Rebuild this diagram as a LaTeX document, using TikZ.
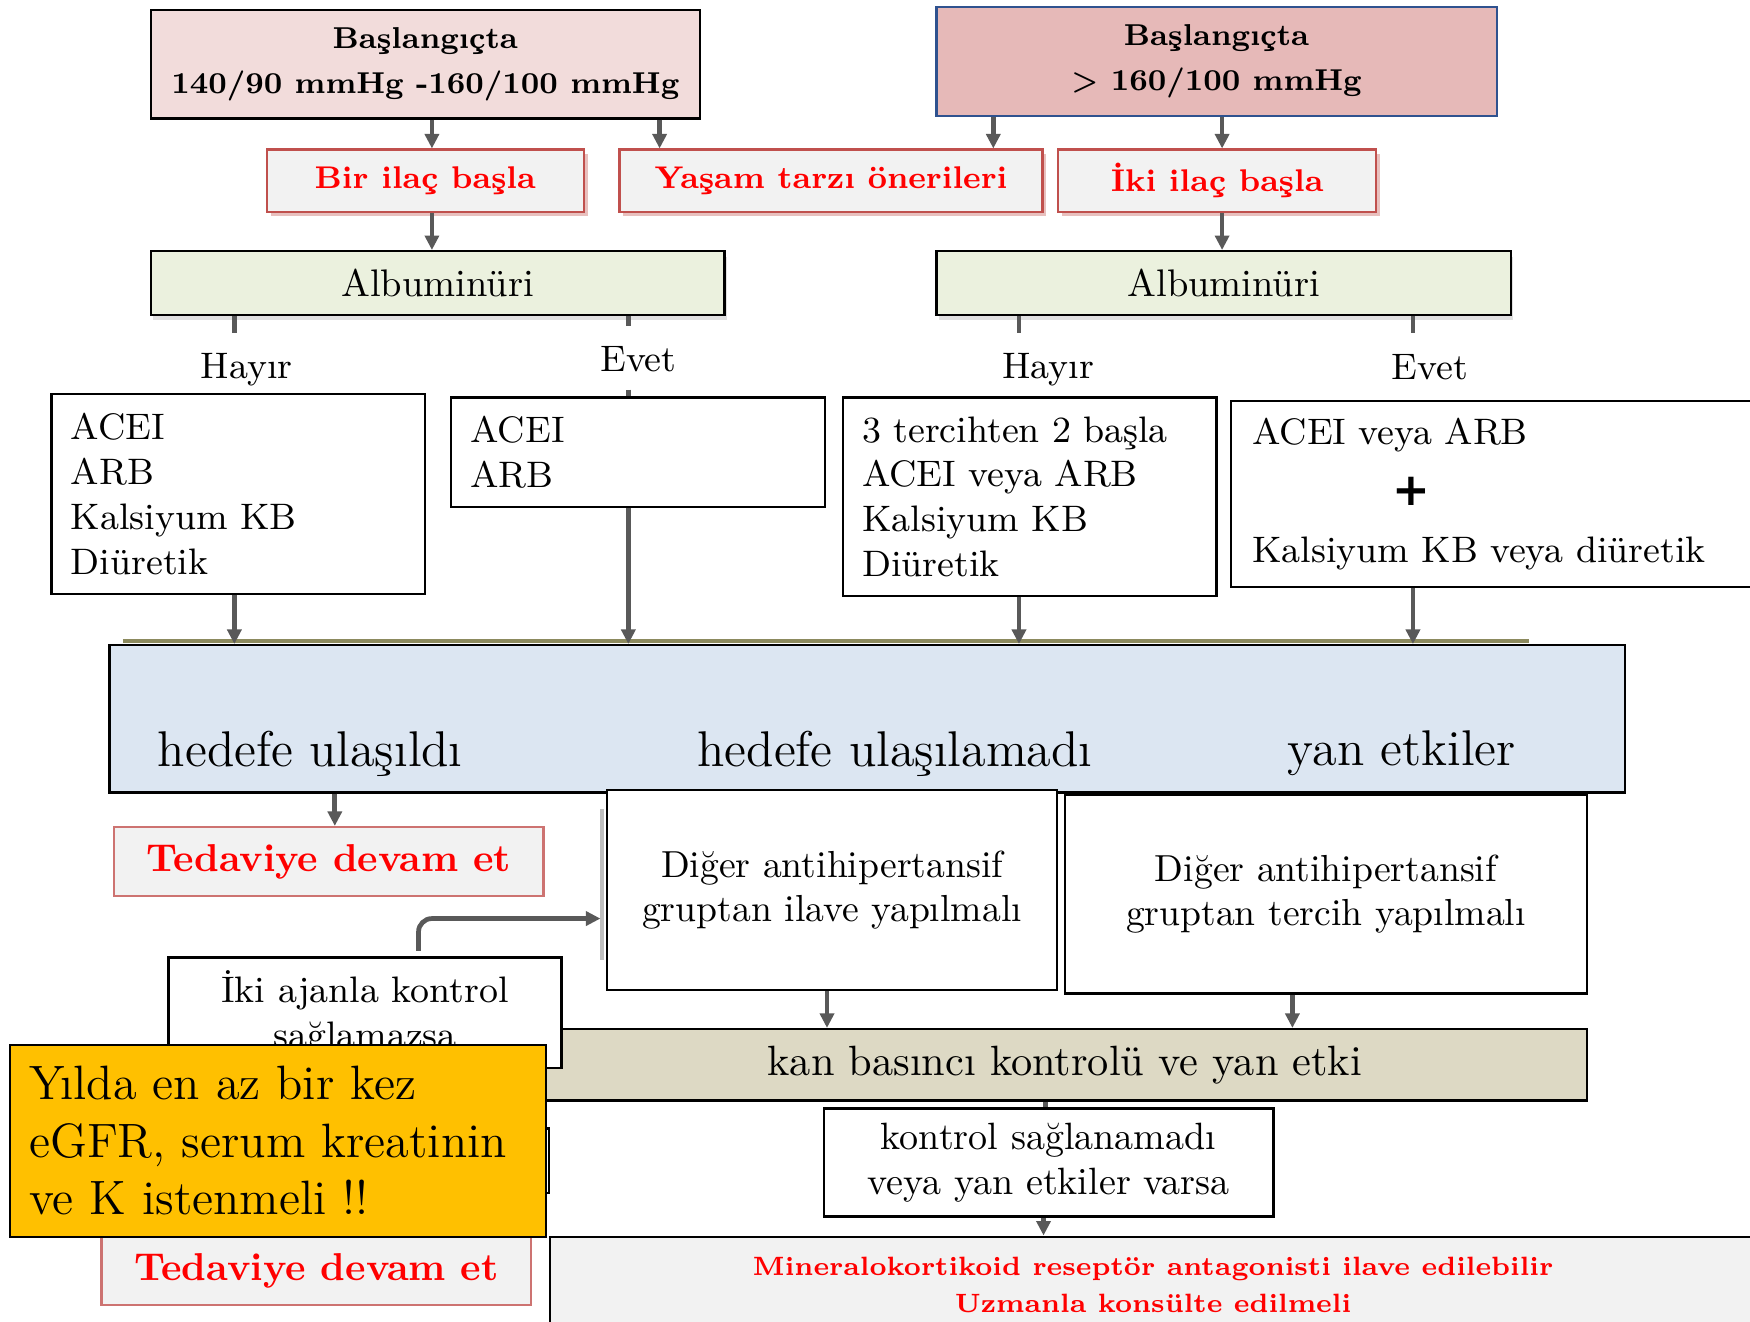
\documentclass[tikz,border=0pt]{standalone}
\usepackage{fontspec}
\newfontfamily\djv{DejaVu Sans}
\usetikzlibrary{arrows.meta,shadows}
\definecolor{pinkL}{HTML}{F2DCDB}
\definecolor{pinkD}{HTML}{E6B9B8}
\definecolor{bordBlue}{HTML}{2F528F}
\definecolor{redB}{HTML}{C0504D}
\definecolor{shadowR}{HTML}{D99694}
\definecolor{greenL}{HTML}{EBF1DE}
\definecolor{blueL}{HTML}{DCE6F2}
\definecolor{khakiL}{HTML}{DDD9C4}
\definecolor{grayF}{HTML}{F2F2F2}
\definecolor{yelL}{HTML}{FFC000}
\definecolor{arrG}{HTML}{595959}
\definecolor{oliveL}{HTML}{8C8A5E}
\definecolor{redT}{HTML}{FF0000}
\newcommand\myfs[2]{\fontsize{#1}{#2}\selectfont}
\begin{document}
\begin{tikzpicture}[x=0.1mm,y=-0.1mm,
  box/.style={draw=black, line width=0.6pt, inner sep=0pt, anchor=north west, align=center},
  wh/.style 2 args={minimum width=#1mm, minimum height=#2mm},
  hdr/.style={box, font=\myfs{7.7}{11.4}\bfseries},
  redbox/.style={box, draw=redB, fill=grayF, text=redT, font=\myfs{8.0}{10}\bfseries,
     drop shadow={fill=shadowR, opacity=0.6, shadow xshift=0.35mm, shadow yshift=-0.35mm}},
  tedbox/.style={box, draw=redB!80, fill=grayF, text=redT, font=\myfs{9.9}{12}\bfseries},
  alb/.style={box, fill=greenL, font=\myfs{9.8}{12},
     drop shadow={fill=black!30, opacity=0.4, shadow xshift=0.2mm, shadow yshift=-0.5mm}},
  lbl/.style={font=\myfs{9.4}{11.4}, inner sep=0pt},
  lst/.style={box, fill=white, align=left, inner xsep=1.75mm, font=\myfs{9.4}{11.4}},
  plain/.style={box, fill=white, font=\myfs{9.6}{11.4}},
  big/.style={font=\myfs{12.8}{15}, inner sep=0pt},
  arr/.style={draw=arrG, line width=1.2pt, -{Triangle[length=1.3mm, width=1.25mm]}},
  stub/.style={draw=arrG, line width=1.2pt}
]
\useasboundingbox (0,0) rectangle (1568,1184);
\fill[white] (0,0) rectangle (1568,1184);

% top headers
\node[hdr, fill=pinkL, wh={49.2}{9.7}] (tl) at (134,8) {Başlangıçta\\140/90 mmHg -160/100 mmHg};
\node[hdr, fill=pinkD, draw=bordBlue, wh={50.2}{9.8}] (tr) at (838,5) {Başlangıçta\\> 160/100 mmHg};

% red boxes
\node[redbox, wh={28.4}{5.6}] (bir) at (238,133) {Bir ilaç başla};
\node[redbox, wh={37.9}{5.6}] (yasam) at (554,133) {Yaşam tarzı önerileri};
\node[redbox, wh={28.5}{5.6}] (iki) at (947,133) {İki ilaç başla};

% albuminuri
\node[alb, wh={51.4}{5.7}] (albL) at (134,224) {Albuminüri};
\node[alb, wh={51.5}{5.7}] (albR) at (838,224) {Albuminüri};

% labels
\node[lbl] (hayL) at (221,331) {Hayır};
\node[lbl] (evetL) at (572,322) {Evet};
\node[lbl] (hayR) at (939,331) {Hayır};
\node[lbl] (evetR) at (1281,329) {Evet};

% drug lists
\node[lst, wh={33.5}{17.9}, text width=30.0mm] (b1) at (45,352) {ACEI\\ARB\\Kalsiyum KB\\Diüretik};
\node[lst, wh={33.5}{9.8}, text width=30.0mm] (b2) at (403,355) {ACEI\\ARB};
\node[lst, wh={33.5}{17.8}, text width=30.0mm] (b3) at (754,355) {3 tercihten 2 başla\\ACEI veya ARB\\Kalsiyum KB\\Diüretik};
\node[lst, wh={47.3}{16.7}, inner xsep=1.9mm, text width=43.5mm] (b4) at (1102,358)
  {ACEI veya ARB\\[1.5mm]\hspace*{12.6mm}{\djv\myfs{11.5}{11.4}\bfseries +}\\[1.1mm]Kalsiyum KB veya diüretik};

% blue box
\draw[oliveL, line width=1pt] (110,574) -- (1370,574);
\node[box, fill=blueL, wh={135.8}{13.2}] (blue) at (97,577) {};
\node[big] (t1) at (278,675) {hedefe ulaşıldı};
\node[big] (t2) at (802,675) {hedefe ulaşılamadı};
\node[big] (t3) at (1256,675) {yan etkiler};

% second level
\node[tedbox, wh={38.5}{6.2}] (ted1) at (101,740) {Tedaviye devam et};
\draw[black!25, line width=1pt] (539,725) -- (539,860);
\node[plain, wh={40.3}{17.9}] (dil) at (543,707) {Diğer antihipertansif\\gruptan ilave yapılmalı};
\node[plain, wh={46.8}{17.8}] (dtr) at (953,711) {Diğer antihipertansif\\gruptan tercih yapılmalı};

% khaki and lower boxes
\node[box, fill=khakiL, wh={93.6}{6.4}, font=\myfs{10.8}{12}] (khaki) at (485,921) {kan basıncı kontrolü ve yan etki};
\node[plain, wh={35.2}{9.9}, font=\myfs{9.4}{11.4}] (ikiaj) at (150,857) {İki ajanla kontrol\\sağlamazsa};
\node[plain, wh={40.3}{9.7}, font=\myfs{9.7}{11.4}] (kontrol) at (737,992) {kontrol sağlanamadı\\veya yan etkiler varsa};
\node[box, fill=grayF, text=redT, wh={108.0}{8.6}, font=\myfs{6.75}{9.4}\bfseries] (bottom) at (492,1107)
  {Mineralokortikoid reseptör antagonisti ilave edilebilir\\Uzmanla konsülte edilmeli};
\node[box, fill=white, wh={34.1}{5.8}] (hidden) at (150,1010) {};
\node[tedbox, wh={38.5}{6.1}] (ted2) at (90,1107) {Tedaviye devam et};
\node[box, fill=yelL, align=left, inner xsep=1.7mm, text width=44.6mm, wh={48.0}{17.2}, font=\myfs{12.3}{14.65}] (yel) at (8,935)
  {Yılda en az bir kez\\eGFR, serum kreatinin\\ve K istenmeli !!};

% connectors
\draw[arr] (tl.south -| 387,0) -- (bir.north -| 387,0);
\draw[arr] (tl.south -| 591,0) -- (yasam.north -| 591,0);
\draw[arr] (tr.south -| 890,0) -- (yasam.north -| 890,0);
\draw[arr] (tr.south -| 1095,0) -- (iki.north -| 1095,0);
\draw[arr] (bir.south -| 387,0) -- (albL.north -| 387,0);
\draw[arr] (iki.south -| 1095,0) -- (albR.north -| 1095,0);

\coordinate (s1) at (210,298);
\coordinate (s2) at (563,292);
\coordinate (s3) at (913,298);
\coordinate (s4) at (1266,298);
\coordinate (s5) at (563,349);
\draw[stub] (albL.south -| s1) -- (s1);
\draw[stub] (albL.south -| s2) -- (s2);
\draw[stub] (albR.south -| s3) -- (s3);
\draw[stub] (albR.south -| s4) -- (s4);
\draw[stub] (s5) -- (b2.north -| s5);

\draw[arr] (b1.south -| 210,0) -- (blue.north -| 210,0);
\draw[arr] (b2.south -| 563,0) -- (blue.north -| 563,0);
\draw[arr] (b3.south -| 913,0) -- (blue.north -| 913,0);
\draw[arr] (b4.south -| 1266,0) -- (blue.north -| 1266,0);
\draw[arr] (blue.south -| 300,0) -- (ted1.north -| 300,0);

\draw[arr, rounded corners=1.2mm, shorten <=0.5mm, shorten >=0.5mm] (ikiaj.north -| 375,0) |- (dil.west |- 0,823);

\draw[arr] (dil.south -| 741,0) -- (khaki.north -| 741,0);
\draw[arr] (dtr.south -| 1158,0) -- (khaki.north -| 1158,0);
\draw[stub] (khaki.south -| 937,0) -- (kontrol.north -| 937,0);
\draw[arr] (kontrol.south -| 935,0) -- (bottom.north -| 935,0);
\end{tikzpicture}
\end{document}
